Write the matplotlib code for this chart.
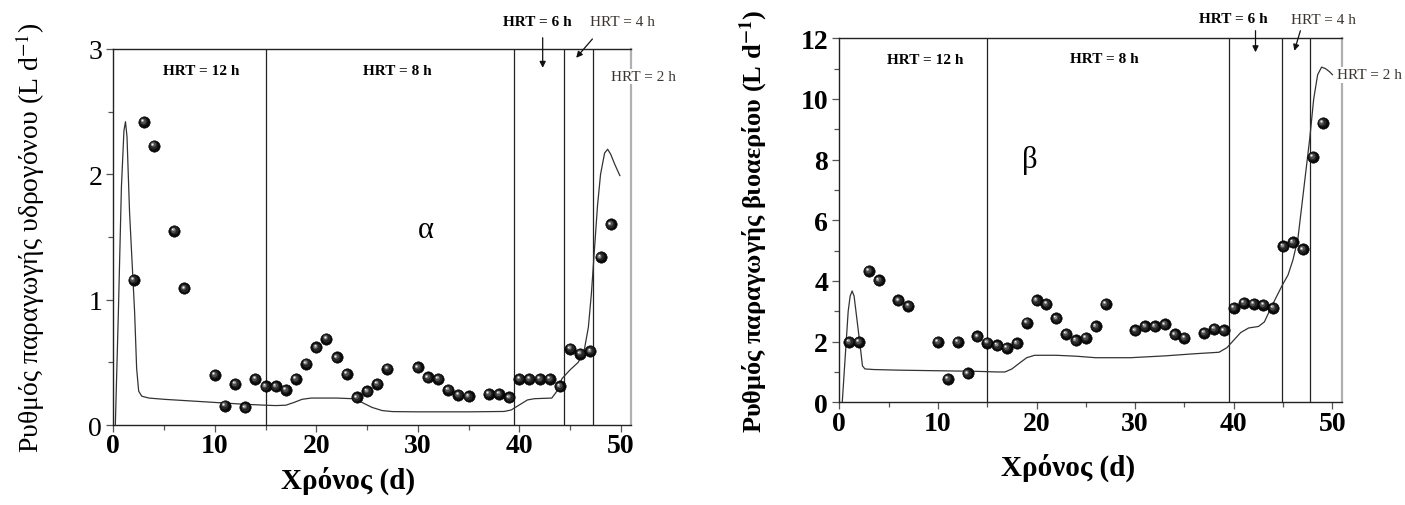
#Script recreating the hydrogen / biogas production rate figure

import matplotlib
matplotlib.use("Agg")
import matplotlib.pyplot as plt
from matplotlib.ticker import MultipleLocator
from matplotlib.transforms import offset_copy

plt.rcParams['font.family'] = ['Liberation Serif', 'DejaVu Serif']
plt.rcParams['mathtext.fontset'] = 'stix'

# measured points, panel a (hydrogen)
days_h2 = [2, 3, 4, 6, 7, 10, 11, 12, 13, 14, 15, 16, 17, 18, 19, 20, 21, 22, 23, 24, 25, 26, 27,
           30, 31, 32, 33, 34, 35, 37, 38, 39, 40, 41, 42, 43, 44, 45, 46, 47, 48, 49]
rate_h2 = [1.16, 2.42, 2.23, 1.55, 1.09, 0.40, 0.155, 0.33, 0.14, 0.37, 0.31, 0.31, 0.28, 0.37,
           0.49, 0.62, 0.69, 0.54, 0.41, 0.22, 0.27, 0.33, 0.45,
           0.46, 0.38, 0.37, 0.28, 0.24, 0.23, 0.25, 0.25, 0.22, 0.37, 0.37, 0.37, 0.37, 0.31,
           0.61, 0.57, 0.59, 1.34, 1.60]

# model curve, panel a
model_days_h2 = [0.2, 0.5, 0.8, 1.05, 1.2, 1.35, 1.6, 1.85, 2.1, 2.3, 2.5, 2.8, 3.5, 5, 8, 11, 13,
                 15, 16, 17, 17.8, 18.6, 19.5, 22, 23.5, 24.5, 25.5, 26.5, 27.5, 30, 35, 38.5,
                 39.2, 40, 40.8, 41.5, 43.2, 43.7, 44.2, 45.0, 45.8, 46.4, 46.8, 47.1, 47.4,
                 47.7, 48.0, 48.4, 48.7, 49.0, 49.4, 49.9]
model_h2 = [0.0, 0.9, 1.9, 2.35, 2.42, 2.3, 1.7, 1.3, 0.9, 0.45, 0.27, 0.23, 0.215, 0.205, 0.19,
            0.175, 0.165, 0.158, 0.155, 0.158, 0.18, 0.205, 0.215, 0.215, 0.21, 0.18, 0.14,
            0.115, 0.107, 0.105, 0.105, 0.108, 0.12, 0.16, 0.2, 0.21, 0.215, 0.27, 0.37, 0.44,
            0.5, 0.6, 0.78, 1.05, 1.4, 1.75, 2.0, 2.17, 2.2, 2.16, 2.08, 1.99]

# measured points, panel b (biogas)
days_bg = [1, 2, 3, 4, 6, 7, 10, 11, 12, 13, 14, 15, 16, 17, 18, 19, 20, 21, 22, 23, 24, 25, 26, 27,
           30, 31, 32, 33, 34, 35, 37, 38, 39, 40, 41, 42, 43, 44, 45, 46, 47, 48, 49]
rate_bg = [1.99, 1.99, 4.33, 4.03, 3.36, 3.18, 1.99, 0.78, 1.99, 0.95, 2.17, 1.97, 1.88, 1.80,
           1.95, 2.63, 3.37, 3.25, 2.77, 2.26, 2.05, 2.12, 2.51, 3.25,
           2.37, 2.51, 2.51, 2.57, 2.24, 2.12, 2.29, 2.42, 2.37, 3.12, 3.28, 3.25, 3.21, 3.12,
           5.15, 5.28, 5.04, 8.09, 9.22]

# model curve, panel b
model_days_bg = [0.3, 0.6, 0.9, 1.1, 1.3, 1.5, 1.8, 2.1, 2.35, 2.6, 3.5, 6, 10, 14, 16, 16.8, 17.5,
                 18.3, 19, 19.8, 22, 24, 26, 29.5, 33, 36, 38.5, 39.3, 40, 40.7, 41.5, 42.5,
                 43.1, 43.6, 44.2, 44.9, 45.5, 46.0, 46.5, 46.9, 47.3, 47.7, 48.1, 48.5, 48.9,
                 49.3, 49.7, 50.0]
model_bg = [0.0, 1.5, 3.0, 3.5, 3.67, 3.5, 2.7, 1.9, 1.2, 1.1, 1.08, 1.06, 1.04, 1.02, 1.0, 1.0,
            1.1, 1.3, 1.47, 1.55, 1.55, 1.52, 1.47, 1.47, 1.53, 1.6, 1.65, 1.8, 2.05, 2.3, 2.45,
            2.5, 2.65, 3.0, 3.4, 3.85, 4.2, 4.7, 5.4, 6.5, 7.6, 8.7, 10.0, 10.8, 11.05, 11.0,
            10.9, 10.8]

# HRT change days
hrt_days_h2 = [15, 39.5, 44.4, 47.3]
hrt_days_bg = [15, 39.5, 44.85, 47.75]

ylabel_h2 = r'Ρυθμός παραγωγής υδρογόνου (L d$^{-1}$)'
ylabel_bg = r'Ρυθμός παραγωγής βιοαερίου (L d$^{\mathbf{-1}}$)'
xlabel = 'Χρόνος (d)'

W, H = 1405, 506
fig = plt.figure(figsize=(W / 100, H / 100), dpi=100)


def px_rect(left, top, right, bottom):
    return [left / W, 1 - bottom / H, (right - left) / W, (bottom - top) / H]


def draw_spheres(ax, x, y):
    ax.plot(x, y, 'o', ms=8.2, mfc='#0a0a0a', mec='#000000', mew=0.4, ls='none', zorder=4)
    for size, col, off in [(5.8, '#262626', 0.4), (3.8, '#505050', 0.8),
                           (2.2, '#9a9a9a', 1.1), (1.1, '#f2f2f2', 1.3)]:
        tr = offset_copy(ax.transData, fig=ax.figure, x=-off, y=off, units='points')
        ax.plot(x, y, 'o', ms=size, mfc=col, mec='none', ls='none', transform=tr, zorder=5)


def style_axes(ax, ymax, ymaj, ymin, ytick_bold):
    ax.set_xlim(0, 51)
    ax.set_ylim(0, ymax)
    ax.xaxis.set_major_locator(MultipleLocator(10))
    ax.xaxis.set_minor_locator(MultipleLocator(5))
    ax.yaxis.set_major_locator(MultipleLocator(ymaj))
    ax.yaxis.set_minor_locator(MultipleLocator(ymin))
    ax.tick_params(which='both', direction='out', color='#555555', top=False, right=False)
    ax.tick_params(which='major', length=5, width=0.9)
    ax.tick_params(which='minor', length=3.5, width=0.9)
    ax.tick_params(axis='x', labelsize=20, pad=1)
    ax.tick_params(axis='y', labelsize=20, pad=3)
    for lab in ax.get_xticklabels():
        lab.set_fontweight('bold')
    if ytick_bold:
        for lab in ax.get_yticklabels():
            lab.set_fontweight('bold')
    for side in ['left', 'bottom', 'top']:
        ax.spines[side].set_color('#222222')
        ax.spines[side].set_linewidth(1.0)
    ax.spines['right'].set_color('#b0b0b0')
    ax.spines['right'].set_linewidth(1.6)


arrow = dict(arrowstyle='-|>', color='#111111', lw=0.9, mutation_scale=9, shrinkA=0, shrinkB=0)

# ---- panel a
ax1 = fig.add_axes(px_rect(113.3, 50, 631, 426))
style_axes(ax1, 3, 1, 0.5, False)
for d in hrt_days_h2:
    ax1.axvline(d, color='#222222', lw=0.9, zorder=2)
ax1.plot(model_days_h2, model_h2, color='#333333', lw=0.9, zorder=3)
draw_spheres(ax1, days_h2, rate_h2)

ax1.text(8.7, 2.83, 'HRT = 12 h', fontsize=11, fontweight='bold', ha='center', va='center')
ax1.text(28.0, 2.83, 'HRT = 8 h', fontsize=11, fontweight='bold', ha='center', va='center')
ax1.text(30.8, 1.56, 'α', fontsize=22, ha='center', va='center')
ax1.text(41.8, 3.22, 'HRT = 6 h', fontsize=11, fontweight='bold', ha='center', va='center', clip_on=False)
ax1.text(50.2, 3.22, 'HRT = 4 h', fontsize=11, color='#3a3530', ha='center', va='center', clip_on=False)
ax1.text(49.0, 2.78, 'HRT = 2 h', fontsize=11, color='#3a3530', ha='left', va='center', clip_on=False,
         bbox=dict(facecolor='white', edgecolor='none', pad=1), zorder=6)
ax1.annotate('', xy=(42.3, 2.85), xytext=(42.3, 3.09), arrowprops=arrow, annotation_clip=False)
ax1.annotate('', xy=(45.6, 2.93), xytext=(47.2, 3.08), arrowprops=arrow, annotation_clip=False)

ax1.set_ylabel(ylabel_h2, fontsize=20, va='center')
ax1.yaxis.set_label_coords(-0.161, 0.5)
fig.text(348 / W, 1 - 481 / H, xlabel, fontsize=21, fontweight='bold', ha='center', va='center')

# ---- panel b
ax2 = fig.add_axes(px_rect(839.3, 39.3, 1342.3, 403.3))
style_axes(ax2, 12, 2, 1, True)
for d in hrt_days_bg:
    ax2.axvline(d, color='#222222', lw=0.9, zorder=2)
ax2.plot(model_days_bg, model_bg, color='#333333', lw=0.9, zorder=3)
draw_spheres(ax2, days_bg, rate_bg)

ax2.text(8.7, 11.3, 'HRT = 12 h', fontsize=11, fontweight='bold', ha='center', va='center')
ax2.text(26.9, 11.34, 'HRT = 8 h', fontsize=11, fontweight='bold', ha='center', va='center')
ax2.text(19.3, 8.02, 'β', fontsize=22, ha='center', va='center')
ax2.text(39.9, 12.64, 'HRT = 6 h', fontsize=11, fontweight='bold', ha='center', va='center', clip_on=False)
ax2.text(49.1, 12.62, 'HRT = 4 h', fontsize=11, color='#3a3530', ha='center', va='center', clip_on=False)
ax2.text(50.5, 10.8, 'HRT = 2 h', fontsize=11, color='#3a3530', ha='left', va='center', clip_on=False,
         bbox=dict(facecolor='white', edgecolor='none', pad=1), zorder=6)
ax2.annotate('', xy=(42.2, 11.54), xytext=(42.2, 12.25), arrowprops=arrow, annotation_clip=False)
ax2.annotate('', xy=(46.14, 11.59), xytext=(46.75, 12.25), arrowprops=arrow, annotation_clip=False)

ax2.set_ylabel(ylabel_bg, fontsize=19, fontweight='bold', va='center')
ax2.yaxis.set_label_coords(-0.17, 0.5)
fig.text(1068 / W, 1 - 468 / H, xlabel, fontsize=21, fontweight='bold', ha='center', va='center')

fig.savefig('out.png', dpi=100, facecolor='white')
